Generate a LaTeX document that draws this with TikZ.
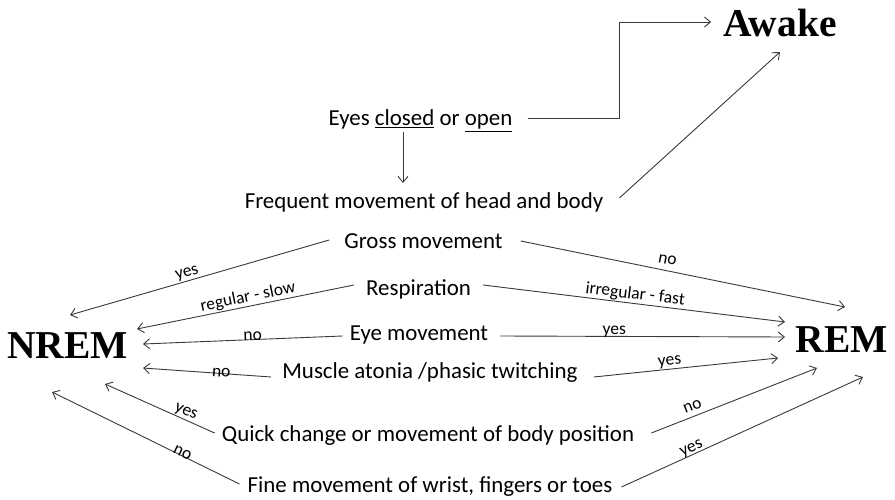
\documentclass[tikz,border=0pt]{standalone}
\usepackage{fontspec}
\newfontfamily\bodyfont{Carlito}
\newfontfamily\bigfont{Liberation Serif}
\usetikzlibrary{arrows.meta}
\definecolor{linegray}{HTML}{3A3A3A}
\tikzset{
  txt/.style={font=\bodyfont\fontsize{22.9}{27}\selectfont, inner sep=0pt, anchor=base},
  big/.style={font=\bigfont\bfseries\fontsize{39.5}{45}\selectfont, inner sep=0pt, anchor=base},
  lab/.style={font=\bodyfont\fontsize{17.5}{20}\selectfont, inner sep=0pt, sloped},
  arr/.style={draw=linegray, line width=0.9pt, -{Straight Barb[length=6pt,width=10pt]}}
}
\begin{document}
\begin{tikzpicture}[x=1pt,y=-1pt]
\fill[white] (0,0) rectangle (895,500);
\useasboundingbox (0,0) rectangle (895,500);
% nodes
\node[big] (awake) at (780,37) {Awake};
\node[big] (nrem) at (67.5,358) {NREM};
\node[big] (rem) at (842,352) {REM};
\node[txt] (eyes) at (420.5,126) {Eyes \underline{closed} or \underline{open}};
\node[txt] (freq) at (424,209) {Frequent movement of head and body};
\node[txt] (gross) at (423.5,248) {Gross movement};
\node[txt] (resp) at (418.5,295) {Respiration};
\node[txt] (eye) at (419,340) {Eye movement};
\node[txt] (musc) at (430,378) {Muscle atonia /phasic twitching};
\node[txt] (quick) at (428,441) {Quick change or movement of body position};
\node[txt] (fine) at (430,492) {Fine movement of wrist, fingers or toes};
% top connectors
\draw[arr] ([xshift=15pt,yshift=8pt]eyes.base east) -- ++(92pt,0pt) |- ([xshift=-12pt,yshift=15pt]awake.base west);
\draw[arr] ([xshift=-17.5pt,yshift=-6pt]eyes.base) -- ([xshift=-21pt,yshift=26pt]freq.base);
\draw[arr] ([xshift=16pt,yshift=11pt]freq.base east) -- ([xshift=0pt,yshift=-15pt]awake.base);
% to NREM
\draw[arr] ([xshift=-15pt,yshift=8pt]gross.base west) -- node[lab,pos=0.54,above=1pt] {yes} ([xshift=2.5pt,yshift=43pt]nrem.base);
\draw[arr] ([xshift=-12pt,yshift=10pt]resp.base west) -- node[lab,pos=0.48,above=1pt] {regular - slow} ([xshift=69.5pt,yshift=29pt]nrem.base);
\draw[arr] ([xshift=-7pt,yshift=4pt]eye.base west) -- node[lab,pos=0.45,above=-1pt] {no} ([xshift=75.5pt,yshift=14pt]nrem.base);
\draw[arr] ([xshift=-11pt,yshift=1pt]musc.base west) -- node[lab,pos=0.39,above=-4pt] {no} ([xshift=75.5pt,yshift=-10pt]nrem.base);
\draw[arr] ([xshift=-7pt,yshift=8pt]quick.base west) -- node[lab,pos=0.29,above=1pt] {yes} ([xshift=37.5pt,yshift=-26pt]nrem.base);
\draw[arr] ([xshift=-8pt,yshift=8pt]fine.base west) -- node[lab,pos=0.31,above=-2pt] {no} ([xshift=-15.5pt,yshift=-34pt]nrem.base);
% to REM
\draw[arr] ([xshift=18pt,yshift=7pt]gross.base east) -- node[lab,pos=0.446,above=6pt] {no} ([xshift=3pt,yshift=45pt]rem.base);
\draw[arr] ([xshift=12pt,yshift=10pt]resp.base east) -- node[lab,pos=0.5,above=1pt] {irregular - fast} ([xshift=-57pt,yshift=30pt]rem.base);
\draw[arr] ([xshift=12pt,yshift=4pt]eye.base east) -- node[lab,pos=0.40,above=-1pt] {yes} ([xshift=-57pt,yshift=15pt]rem.base);
\draw[arr] ([xshift=16pt,yshift=1pt]musc.base east) -- node[lab,pos=0.416,above=1pt] {yes} ([xshift=-64pt,yshift=-6pt]rem.base);
\draw[arr] ([xshift=17pt,yshift=8pt]quick.base east) -- node[lab,pos=0.27,above=5pt] {no} ([xshift=-25pt,yshift=-16pt]rem.base);
\draw[arr] ([xshift=9pt,yshift=5pt]fine.base east) -- node[lab,pos=0.3,above=-1pt] {yes} ([xshift=21pt,yshift=-25pt]rem.base);
\end{tikzpicture}
\end{document}
